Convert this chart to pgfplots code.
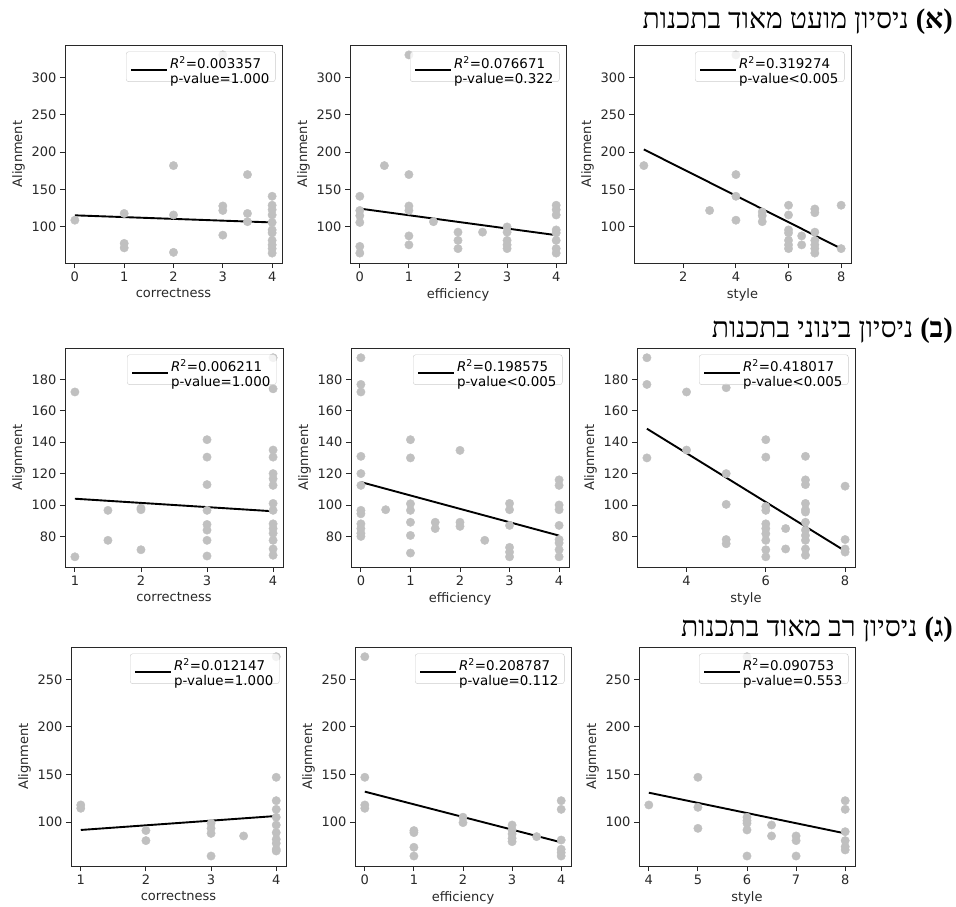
\documentclass[border=0pt]{standalone}
\usepackage{fontspec}
\setmainfont{DejaVu Sans}
\newfontfamily\hebfont[Script=Hebrew]{Liberation Serif}
\TeXXeTstate=1
\usepackage{pgfplots}
\pgfplotsset{compat=1.18}
\definecolor{scat}{RGB}{192,192,192}
\definecolor{frm}{RGB}{40,40,40}
\definecolor{legb}{RGB}{204,204,204}
\pgfplotsset{
  myax/.style={
    scale only axis, anchor=north west,
    axis line style={draw=frm, line width=0.9pt},
    tick align=outside, tick pos=left, major tick length=5pt,
    tick style={frm, line width=0.9pt},
    ylabel={Alignment},
    tick label style={font=\fontsize{13}{15}\selectfont, text=frm},
    label style={font=\fontsize{13}{15}\selectfont, text=frm},
    /pgf/number format/assume math mode=true,
    scaled ticks=false,
    legend style={at={(1,1)}, anchor=north east, xshift=-6.5pt, yshift=-6.5pt,
      draw=legb, rounded corners=2.5pt, fill=white, fill opacity=0.8, text opacity=1,
      font=\fontsize{13.4}{15}\selectfont, inner xsep=4pt, inner ysep=2.5pt,
      cells={anchor=west}},
    legend image code/.code={\draw[#1] (0pt,-3pt) -- (28pt,-3pt); \path (0pt,-3pt) -- (36pt,-3pt);},
  },
  sc/.style={only marks, mark=*, mark size=4.2pt, color=scat, forget plot},
  rl/.style={black, line width=1.9pt},
}
\newcommand{\leg}[2]{\addlegendentry{\begin{tabular}{@{}l@{}}\textit{R}\textsuperscript{2}=#1\\p-value#2\end{tabular}}}
\newcommand{\ttl}{\fontsize{28.3}{31}\selectfont\hebfont}
\begin{document}
\begin{tikzpicture}[x=1pt,y=1pt, font=\fontsize{13}{15}\selectfont]
\useasboundingbox (0,0) rectangle (956,-906);
% ---------------- Row 1 ----------------
\node[anchor=base east, inner sep=0pt] at (953,-28) {\ttl{\beginR ניסיון מועט מאוד בתכנות\endR}\ {\bfseries (א)}};
\begin{axis}[myax, at={(65pt,-45pt)}, width=217pt, height=218pt,
  xmin=-0.2, xmax=4.2, ymin=51.75, ymax=343.25, xtick={0,1,2,3,4}, ytick={100,150,200,250,300},
  xlabel={correctness}]
\addplot[sc] table {
x y
0 109
1 118
1 78
1 72
2 182
2 116
2 66
3 330
3 128
3 122
3 89
3.5 170
3.5 118
3.5 107
4 141
4 129
4 123
4 116
4 106
4 96
4 92
4 82
4 76
4 71
4 65
};
\addplot[rl] coordinates {(0,115.5) (4,106)};
\leg{0.003357}{=1.000}
\end{axis}
\begin{axis}[myax, at={(350pt,-45pt)}, width=216pt, height=218pt,
  xmin=-0.2, xmax=4.2, ymin=51.75, ymax=343.25, xtick={0,1,2,3,4}, ytick={100,150,200,250,300},
  xlabel={efficiency}]
\addplot[sc] table {
x y
0 141
0 122
0 115
0 106
0 74
0 65
0.5 182
1 330
1 170
1 128
1 122
1 88
1 76
1.5 107
2 93
2 82
2 71
2.5 93
3 100
3 93
3 82
3 76
3 71
4 129
4 123
4 116
4 96
4 92
4 82
4 71
4 65
};
\addplot[rl] coordinates {(0,124.5) (4,89)};
\leg{0.076671}{=0.322}
\end{axis}
\begin{axis}[myax, at={(634pt,-45pt)}, width=217pt, height=218pt,
  xmin=0.125, xmax=8.375, ymin=51.75, ymax=343.25, xtick={2,4,6,8}, ytick={100,150,200,250,300},
  xlabel={style}]
\addplot[sc] table {
x y
0.5 182
3 122
4 330
4 170
4 141
4 109
5 120
5 115
5 107
6 129
6 116
6 96
6 92
6 82
6 76
6 71
6.5 88
6.5 76
7 124
7 119
7 93
7 82
7 76
7 71
7 65
8 129
8 71
};
\addplot[rl] coordinates {(0.5,203.6) (8,71)};
\leg{0.319274}{<0.005}
\end{axis}
% ---------------- Row 2 ----------------
\node[anchor=base east, inner sep=0pt] at (953,-337) {\ttl{\beginR ניסיון בינוני בתכנות\endR}\ {\bfseries (ב)}};
\begin{axis}[myax, at={(65pt,-348pt)}, width=218pt, height=219pt,
  xmin=0.85, xmax=4.15, ymin=60.5, ymax=200, xtick={1,2,3,4}, ytick={80,100,120,140,160,180},
  xlabel={correctness}]
\addplot[sc] table {
x y
1 172
1 67
1.5 96.6
1.5 77.5
2 98
2 97
2 71.5
3 141.6
3 130.5
3 113
3 96.6
3 87.6
3 84
3 77.5
3 67.5
4 193.8
4 174
4 135
4 130.5
4 120
4 116.7
4 112.5
4 101
4 96.6
4 88
4 85
4 82
4 77.5
4 72
4 68
};
\addplot[rl] coordinates {(1,104) (4,96)};
\leg{0.006211}{=1.000}
\end{axis}
\begin{axis}[myax, at={(351pt,-348pt)}, width=218pt, height=219pt,
  xmin=-0.2, xmax=4.2, ymin=60.5, ymax=200, xtick={0,1,2,3,4}, ytick={80,100,120,140,160,180},
  xlabel={efficiency}]
\addplot[sc] table {
x y
0 193.8
0 176.8
0 172
0 131
0 120
0 112.5
0 96.6
0 94.4
0 88
0 85
0 82
0 80
0.5 97
1 141.6
1 130
1 100.8
1 96.6
1 89
1 80.6
1 69.4
1.5 89
1.5 85
2 134.8
2 89
2 86.4
2.5 77.5
3 101
3 97
3 87
3 73
3 70
3 67
4 116
4 112.5
4 100
4 97
4 87
4 78
4 75.8
4 71.5
4 67
};
\addplot[rl] coordinates {(0,114.6) (4,80.5)};
\leg{0.198575}{<0.005}
\end{axis}
\begin{axis}[myax, at={(637pt,-348pt)}, width=218pt, height=219pt,
  xmin=2.75, xmax=8.25, ymin=60.5, ymax=200, xtick={4,6,8}, ytick={80,100,120,140,160,180},
  xlabel={style}]
\addplot[sc] table {
x y
3 193.8
3 176.8
3 130
4 172
4 135
5 174.7
5 120
5 100.4
5 78
5 75.3
6 141.6
6 130.5
6 99
6 96.6
6 88
6 85
6 81.7
6 77.5
6 71.5
6 67
6.5 85
6.5 72
7 131
7 116
7 113
7 101
7 97
7 95.5
7 89
7 84
7 80.6
7 77.5
7 72
7 68
8 112
8 78
8 72
8 70
};
\addplot[rl] coordinates {(3,148.6) (8,70.7)};
\leg{0.418017}{<0.005}
\end{axis}
% ---------------- Row 3 ----------------
\node[anchor=base east, inner sep=0pt] at (953,-636) {\ttl{\beginR ניסיון רב מאוד בתכנות\endR}\ {\bfseries (ג)}};
\begin{axis}[myax, at={(71pt,-647pt)}, width=215pt, height=219pt,
  xmin=0.85, xmax=4.15, ymin=53.7, ymax=284, xtick={1,2,3,4}, ytick={100,150,200,250},
  xlabel={correctness}]
\addplot[sc] table {
x y
1 117.9
1 114.4
2 91
2 80.4
3 98.6
3 93.3
3 88
3 64.2
3.5 85.3
4 273.8
4 147
4 122.4
4 113.3
4 105
4 96.8
4 88.8
4 81.8
4 77.6
4 71.3
4 69.5
};
\addplot[rl] coordinates {(1,91.6) (4,106.3)};
\leg{0.012147}{=1.000}
\end{axis}
\begin{axis}[myax, at={(355pt,-647pt)}, width=216pt, height=219pt,
  xmin=-0.2, xmax=4.2, ymin=53.7, ymax=284, xtick={0,1,2,3,4}, ytick={100,150,200,250},
  xlabel={efficiency}]
\addplot[sc] table {
x y
0 273.8
0 147
0 117.9
0 114.4
1 91
1 88.8
1 73.4
1 64.2
2 105
2 99.3
3 96.8
3 91.6
3 87.4
3 82.8
3 79.3
3.5 84.6
4 122.4
4 113.3
4 81
4 71.3
4 67.8
4 64.2
};
\addplot[rl] coordinates {(0,131.9) (4,78.6)};
\leg{0.208787}{=0.112}
\end{axis}
\begin{axis}[myax, at={(639pt,-647pt)}, width=216pt, height=219pt,
  xmin=3.8, xmax=8.2, ymin=53.7, ymax=284, xtick={4,5,6,7,8}, ytick={100,150,200,250},
  xlabel={style}]
\addplot[sc] table {
x y
4 117.9
5 147
5 115.4
5 93.3
6 273.8
6 105
6 101.4
6 98.6
6 91.6
6 64.2
6.5 96.8
6.5 85.3
7 85.3
7 80.4
7 64.2
8 122.4
8 113.3
8 89.8
8 80.4
8 74
8 70.6
};
\addplot[rl] coordinates {(4,130.8) (8,88)};
\leg{0.090753}{=0.553}
\end{axis}
\end{tikzpicture}
\end{document}
